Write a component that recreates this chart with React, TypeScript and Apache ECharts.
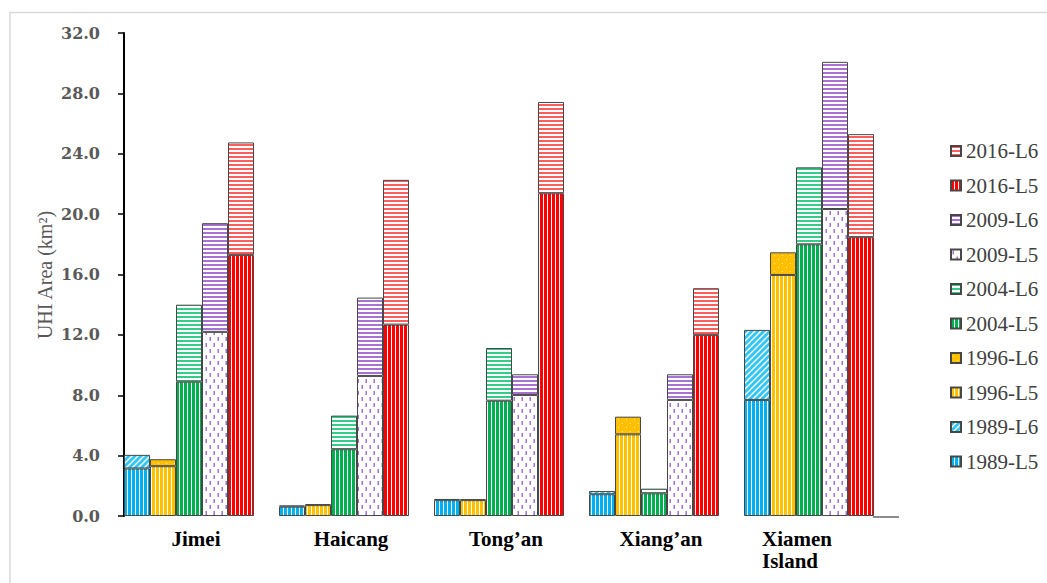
import React, { useEffect, useRef } from "react";
import * as echarts from "echarts";

// Districts on the category axis
const categories = ["Jimei", "Haicang", "Tong’an", "Xiang’an", "Xiamen Island"];

// UHI area (km²) for each year: L5 level and the extra L6 part stacked on top
const l5_1989 = [3.15, 0.62, 1.05, 1.44, 7.69];
const l6_1989 = [0.9, 0.08, 0.08, 0.22, 4.64];
const l5_1996 = [3.3, 0.72, 1.05, 5.41, 15.97];
const l6_1996 = [0.46, 0.06, 0.06, 1.17, 1.5];
const l5_2004 = [8.9, 4.42, 7.64, 1.5, 18.0];
const l6_2004 = [5.1, 2.23, 3.49, 0.31, 5.1];
const l5_2009 = [12.2, 9.28, 8.02, 7.69, 20.34];
const l6_2009 = [7.2, 5.19, 1.37, 1.7, 9.75];
const l5_2016 = [17.3, 12.68, 21.38, 12.0, 18.47];
const l6_2016 = [7.45, 9.59, 6.05, 3.09, 6.83];

const legendOrder = [
  "2016-L6", "2016-L5", "2009-L6", "2009-L5", "2004-L6",
  "2004-L5", "1996-L6", "1996-L5", "1989-L6", "1989-L5",
];

const yTitle = "UHI Area (km²)";

type Ctx = CanvasRenderingContext2D;

function tile(w: number, h: number, draw: (ctx: Ctx) => void) {
  const c = document.createElement("canvas");
  c.width = w;
  c.height = h;
  const ctx = c.getContext("2d") as Ctx;
  draw(ctx);
  return { image: c, repeat: "repeat", imageWidth: w, imageHeight: h };
}

function vStripes(color: string) {
  return tile(4, 4, (ctx) => {
    ctx.fillStyle = "#ffffff";
    ctx.fillRect(0, 0, 4, 4);
    ctx.fillStyle = color;
    ctx.fillRect(0, 0, 3, 4);
  });
}

function hStripes(color: string) {
  return tile(4, 4, (ctx) => {
    ctx.fillStyle = "#ffffff";
    ctx.fillRect(0, 0, 4, 4);
    ctx.fillStyle = color;
    ctx.fillRect(0, 0, 4, 2);
  });
}

function diagStripes(color: string) {
  return tile(6, 6, (ctx) => {
    ctx.fillStyle = color;
    ctx.fillRect(0, 0, 6, 6);
    ctx.strokeStyle = "#ffffff";
    ctx.lineWidth = 1.4;
    for (const off of [-6, 0, 6]) {
      ctx.beginPath();
      ctx.moveTo(off - 1, 7);
      ctx.lineTo(off + 7, -1);
      ctx.stroke();
    }
  });
}

function dashes(color: string) {
  return tile(8, 12, (ctx) => {
    ctx.fillStyle = "#ffffff";
    ctx.fillRect(0, 0, 8, 12);
    ctx.fillStyle = color;
    ctx.fillRect(1.5, 1, 1.5, 4);
    ctx.fillRect(5.5, 7, 1.5, 4);
  });
}

function dotted(color: string, dot: string) {
  return tile(8, 8, (ctx) => {
    ctx.fillStyle = color;
    ctx.fillRect(0, 0, 8, 8);
    ctx.fillStyle = dot;
    ctx.fillRect(2, 3, 1, 1);
    ctx.fillRect(6, 7, 1, 1);
  });
}

const catFont = {
  fontFamily: "Liberation Serif",
  fontWeight: "bold" as const,
  fontSize: 21,
  lineHeight: 22,
  color: "#000000",
};

export default function App() {
  const ref = useRef<HTMLDivElement>(null);

  useEffect(() => {
    if (!ref.current) return;
    const chart = echarts.init(ref.current, undefined, { renderer: "svg" });

    const fills: Record<string, any> = {
      "1989-L5": vStripes("#00B0F0"),
      "1989-L6": diagStripes("#2fc6f6"),
      "1996-L5": vStripes("#FFC000"),
      "1996-L6": dotted("#FFC000", "#ffe9a6"),
      "2004-L5": vStripes("#00B050"),
      "2004-L6": hStripes("#33cc88"),
      "2009-L5": dashes("#a46fd6"),
      "2009-L6": hStripes("#a872d4"),
      "2016-L5": vStripes("#FF0000"),
      "2016-L6": hStripes("#ff5c5c"),
    };

    const groups: [string, number[], number[]][] = [
      ["1989", l5_1989, l6_1989],
      ["1996", l5_1996, l6_1996],
      ["2004", l5_2004, l6_2004],
      ["2009", l5_2009, l6_2009],
      ["2016", l5_2016, l6_2016],
    ];

    const series: any[] = [];
    groups.forEach(([year, l5, l6]) => {
      [["L5", l5], ["L6", l6]].forEach(([lvl, vals]) => {
        const name = `${year}-${lvl}`;
        series.push({
          name,
          type: "bar",
          stack: year,
          barWidth: 26,
          barGap: "0%",
          data: vals,
          itemStyle: {
            color: fills[name],
            borderColor: "#474747",
            borderWidth: 1,
          },
          emphasis: { disabled: true },
        });
      });
    });

    // Category labels: the two-line label sits left-aligned, slightly left of its band centre
    const xData = categories.map((c) =>
      c.includes(" ")
        ? { value: c, textStyle: { padding: [0, 24, 0, 0] } }
        : { value: c, textStyle: { padding: [0, 0, 0, 14] } }
    );

    chart.setOption({
      animation: false,
      backgroundColor: "#ffffff",
      grid: { left: 111.5, top: 33, width: 775, height: 483, containLabel: false },
      legend: {
        orient: "vertical",
        left: 945,
        top: 135.5,
        itemWidth: 10,
        itemHeight: 10,
        itemGap: 13.5,
        icon: "rect",
        data: legendOrder,
        selectedMode: false,
        textStyle: {
          fontFamily: "Liberation Serif",
          fontSize: 21,
          lineHeight: 21,
          color: "#404040",
        },
      },
      xAxis: {
        type: "category",
        data: xData,
        axisLine: { show: false },
        axisTick: { show: false },
        axisLabel: {
          interval: 0,
          margin: 12,
          ...catFont,
          formatter: (v: string) =>
            v.includes(" ")
              ? v.split(" ").map((w) => `{l|${w}}`).join("\n")
              : v,
          rich: { l: { ...catFont, align: "left" } },
        },
      },
      yAxis: {
        type: "value",
        min: 0,
        max: 32,
        interval: 4,
        offset: -12.5,
        axisLine: { show: true, lineStyle: { color: "#000000", width: 2 } },
        axisTick: { show: true, length: 6, lineStyle: { color: "#000000", width: 1.5 } },
        splitLine: { show: false },
        axisLabel: {
          margin: 24,
          fontFamily: "DejaVu Serif",
          fontWeight: "bold",
          fontSize: 16,
          color: "#595959",
          formatter: (v: number) => v.toFixed(1),
        },
      },
      graphic: [
        {
          type: "rect",
          z: -1,
          silent: true,
          shape: { x: 10, y: 12.5, width: 1100, height: 700 },
          style: { fill: "none", stroke: "#d9d9d9", lineWidth: 1.5 },
        },
        {
          type: "text",
          silent: true,
          x: 45,
          y: 275,
          rotation: Math.PI / 2,
          style: {
            text: yTitle,
            fontFamily: "Liberation Serif",
            fontSize: 20,
            fill: "#595959",
            align: "center",
            verticalAlign: "middle",
          },
        },
        {
          type: "line",
          silent: true,
          shape: { x1: 873, y1: 517, x2: 899, y2: 517 },
          style: { stroke: "#8c8c8c", lineWidth: 2 },
        },
      ],
      series,
    });

    return () => chart.dispose();
  }, []);

  return (
    <div
      ref={ref}
      style={{ position: "absolute", left: 0, top: 0, width: 1047, height: 583 }}
    />
  );
}
